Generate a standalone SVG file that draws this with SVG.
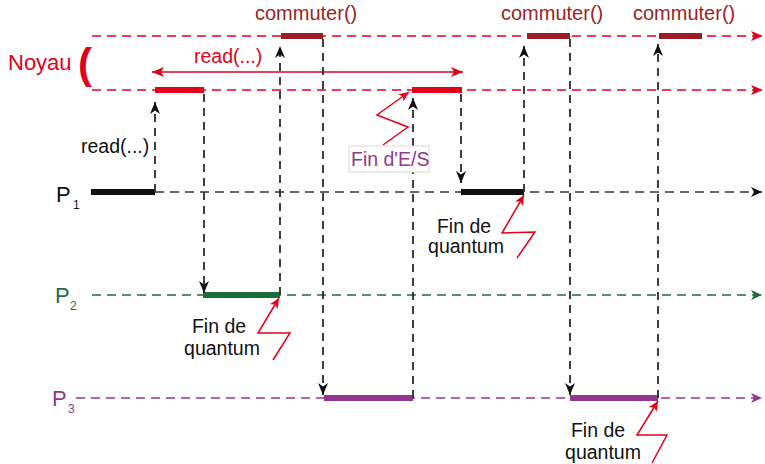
<svg xmlns="http://www.w3.org/2000/svg" width="765" height="464" viewBox="0 0 765 464">
  <style>
    text { font-family: "Liberation Sans", Arial, sans-serif; font-size: 19.5px; }
    .kline { fill: none; stroke: #e2001a; stroke-width: 1.6; stroke-dasharray: 9 6; }
    .pline { fill: none; stroke-width: 1.6; stroke-dasharray: 9 6; }
    .link { fill: none; stroke: #2a2a2a; stroke-width: 1.8; stroke-dasharray: 8 6; marker-end: url(#arrBlack); }
    .bolt { fill: none; stroke: #e2001a; stroke-width: 1.5; marker-end: url(#arrBolt); }
    .bar { stroke-width: 6; }
    .red { fill: #e2001a; }
    .dred { fill: #9b2424; font-size: 20px; }
    .green { fill: #1b6e3b; }
    .purple { fill: #93378e; }
    .black { fill: #111; }
    .proc { font-size: 22px; }
    .sub { font-size: 12px; }
  </style>
  <defs>
    <marker id="arrBlack" markerUnits="userSpaceOnUse" markerWidth="12" markerHeight="10" refX="12" refY="5" orient="auto" viewBox="0 0 12 10">
      <path d="M0,0 L12,5 L0,10 L3.5,5 z" fill="#111"/>
    </marker>
    <marker id="arrRed" markerUnits="userSpaceOnUse" markerWidth="12" markerHeight="10" refX="12" refY="5" orient="auto-start-reverse" viewBox="0 0 12 10">
      <path d="M0,0 L12,5 L0,10 L3,5 z" fill="#e2001a"/>
    </marker>
    <marker id="arrBolt" markerUnits="userSpaceOnUse" markerWidth="10" markerHeight="9" refX="10" refY="4.5" orient="auto" viewBox="0 0 10 9">
      <path d="M0,0 L10,4.5 L0,9 L2.5,4.5 z" fill="#e2001a"/>
    </marker>
    <marker id="arrP1" markerUnits="userSpaceOnUse" markerWidth="11" markerHeight="10" refX="11" refY="5" orient="auto" viewBox="0 0 11 10">
      <path d="M0,0 L11,5 L0,10 L3,5 z" fill="#111"/>
    </marker>
    <marker id="arrP2" markerUnits="userSpaceOnUse" markerWidth="11" markerHeight="10" refX="11" refY="5" orient="auto" viewBox="0 0 11 10">
      <path d="M0,0 L11,5 L0,10 L3,5 z" fill="#1b6e3b"/>
    </marker>
    <marker id="arrP3" markerUnits="userSpaceOnUse" markerWidth="11" markerHeight="10" refX="11" refY="5" orient="auto" viewBox="0 0 11 10">
      <path d="M0,0 L11,5 L0,10 L3,5 z" fill="#93378e"/>
    </marker>
  </defs>

  <!-- kernel timelines -->
  <g id="kernel">
    <text x="8" y="70" class="red" style="font-size:22px">Noyau</text>
    <text x="78" y="78" class="red" style="font-size:42px;font-weight:bold">(</text>
    <path class="kline" d="M92,36 H763" marker-end="url(#arrRed)"/>
    <path class="kline" d="M92,90 H763" marker-end="url(#arrRed)"/>
    <path d="M152,72 H463" fill="none" stroke="#e2001a" stroke-width="1.6" marker-start="url(#arrRed)" marker-end="url(#arrRed)"/>
    <text x="194" y="63" class="red">read(...)</text>
  </g>

  <!-- process timelines -->
  <g id="p1">
    <text x="56" y="202" class="black proc">P</text>
    <text x="73" y="209" class="black sub">1</text>
    <path class="pline" stroke="#333" d="M155,192 H762" marker-end="url(#arrP1)"/>
    <path class="bar" stroke="#111" d="M91,192 H155"/>
    <path class="bar" stroke="#111" d="M461,192 H524"/>
  </g>
  <g id="p2">
    <text x="55" y="303" class="green proc">P</text>
    <text x="70" y="310" class="green sub">2</text>
    <path class="pline" stroke="#1b6e3b" d="M92,295 H762" marker-end="url(#arrP2)"/>
    <path class="bar" stroke="#1b6e3b" stroke-width="5" d="M203,295 H280"/>
  </g>
  <g id="p3">
    <text x="52" y="406" class="purple proc">P</text>
    <text x="68" y="413" class="purple sub">3</text>
    <path class="pline" stroke="#93378e" d="M76,398 H762" marker-end="url(#arrP3)"/>
    <path class="bar" stroke="#93378e" d="M324,398 H413"/>
    <path class="bar" stroke="#93378e" d="M570,398 H658"/>
  </g>

  <!-- kernel activity -->
  <g id="read-syscall">
    <path class="bar" stroke="#e2001a" stroke-width="7" d="M155,90 H204"/>
  </g>
  <g id="io-end">
    <path class="bar" stroke="#e2001a" stroke-width="7" d="M412,90 H462"/>
  </g>
  <g id="switch1">
    <path class="bar" stroke="#9b1f22" d="M281,36 H323"/>
    <text x="255" y="20" class="dred">commuter()</text>
  </g>
  <g id="switch2">
    <path class="bar" stroke="#9b1f22" d="M527,36 H570"/>
    <text x="501" y="20" class="dred">commuter()</text>
  </g>
  <g id="switch3">
    <path class="bar" stroke="#9b1f22" d="M659,36 H702"/>
    <text x="633" y="20" class="dred">commuter()</text>
  </g>

  <!-- control transfers -->
  <g id="connectors">
    <path class="link" d="M155,192 V102"/>
    <path class="link" d="M204,94 V293"/>
    <path class="link" d="M280,295 V46"/>
    <path class="link" d="M323,39 V395"/>
    <path class="link" d="M413,398 V98"/>
    <path class="link" d="M461,94 V183"/>
    <path class="link" d="M524,192 V46"/>
    <path class="link" d="M570,39 V395"/>
    <path class="link" d="M658,398 V44"/>
  </g>

  <!-- events -->
  <g id="read-label">
    <text x="81" y="153" class="black">read(...)</text>
  </g>
  <g id="io-event">
    <path class="bolt" d="M383,145 L408,127 L377,115 L409,92"/>
    <rect x="349" y="146" width="80" height="26" fill="#fff" stroke="#d8d8d8" stroke-width="1"/>
    <text x="351" y="166" class="purple">Fin d'E/S</text>
  </g>
  <g id="quantum-p1">
    <path class="bolt" d="M517,258 L535,232 L502,233 L524,195"/>
    <text x="464" y="233" class="black" text-anchor="middle">Fin de</text>
    <text x="466" y="253" class="black" text-anchor="middle">quantum</text>
  </g>
  <g id="quantum-p2">
    <path class="bolt" d="M273,360 L290,333 L258,333 L279,298"/>
    <text x="219" y="333" class="black" text-anchor="middle">Fin de</text>
    <text x="222" y="355" class="black" text-anchor="middle">quantum</text>
  </g>
  <g id="quantum-p3">
    <path class="bolt" d="M652,463 L667,435 L637,435 L658,401"/>
    <text x="598" y="437" class="black" text-anchor="middle">Fin de</text>
    <text x="603" y="459" class="black" text-anchor="middle">quantum</text>
  </g>
</svg>
